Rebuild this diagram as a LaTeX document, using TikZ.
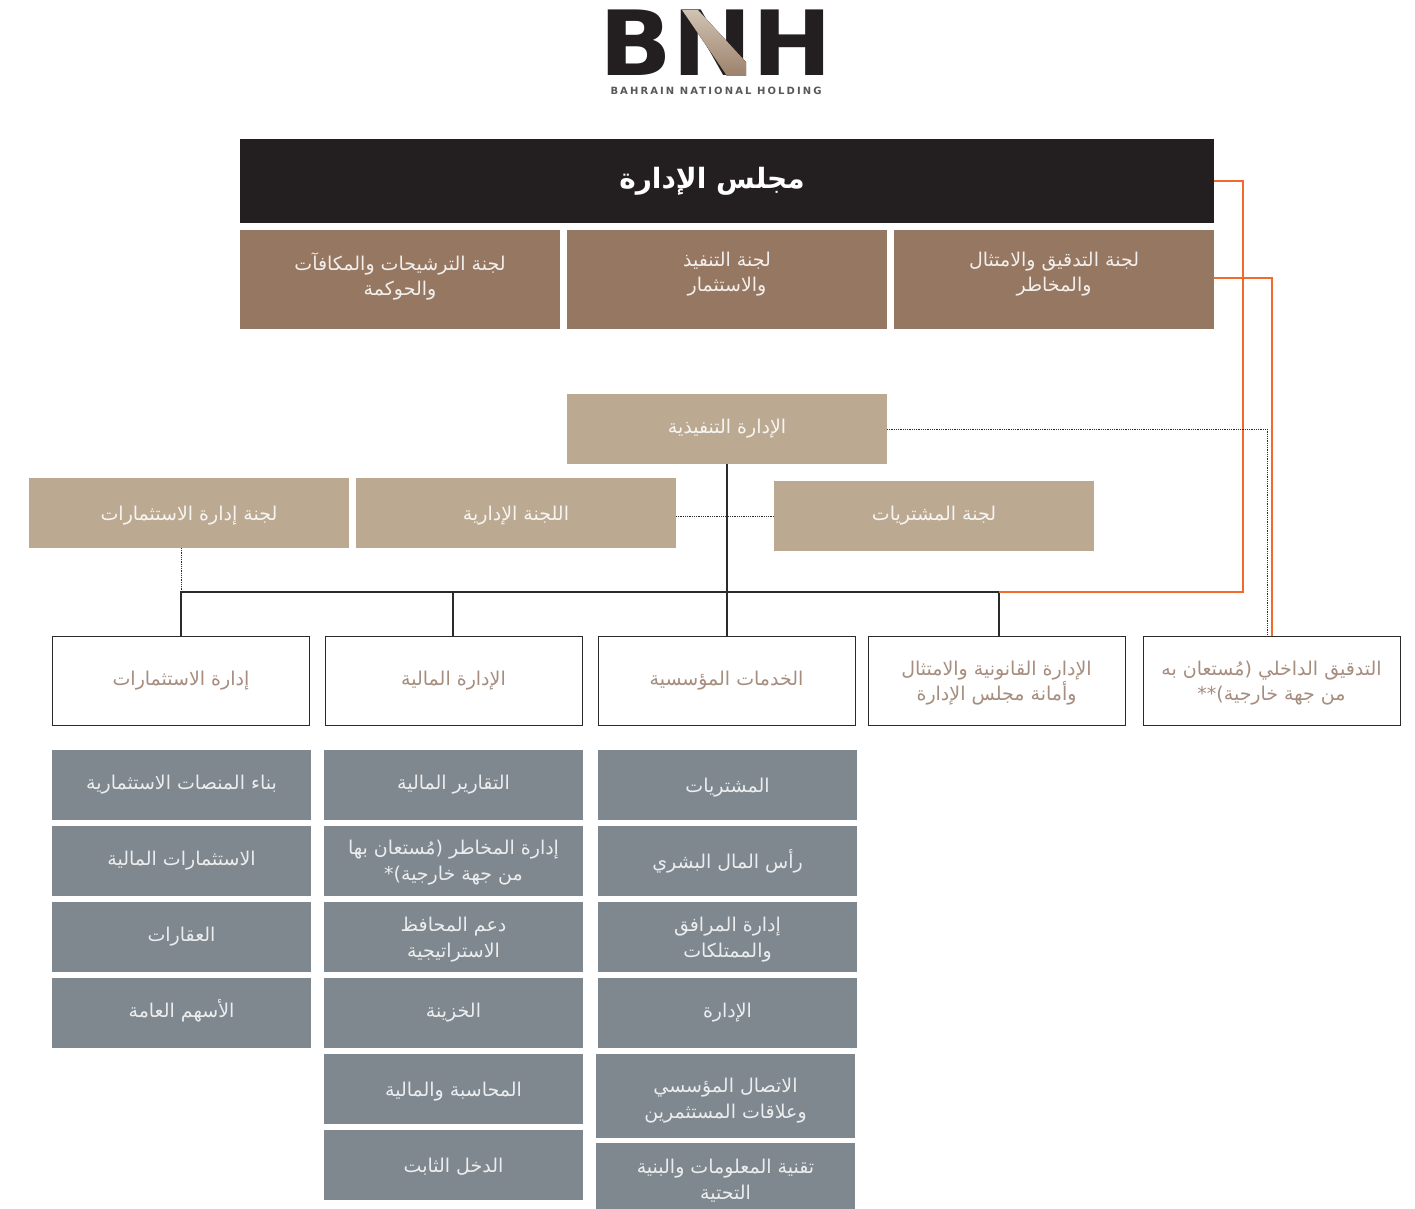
\documentclass[tikz,border=0pt]{standalone}
\usepackage{fontspec}
\usetikzlibrary{positioning}
\TeXXeTstate=1
\newfontfamily\arabicfont[Script=Arabic]{DejaVu Sans}
\newfontfamily\logofont{DejaVu Sans}
\newcommand{\ar}[1]{\beginR #1\endR}
% extra depth or height, moves a node's text up or down in its box
\newcommand{\lift}[1]{\rule[-#1pt]{0pt}{0pt}}
\newcommand{\sink}[1]{\rule{0pt}{#1pt}}
\definecolor{boardblack}{HTML}{231F20}
\definecolor{combrown}{HTML}{957762}
\definecolor{exectan}{HTML}{BBA992}
\definecolor{unitgrey}{HTML}{7E888E}
\definecolor{depttext}{HTML}{A68D7E}
\definecolor{linkorange}{HTML}{F26B2D}
\definecolor{linkdark}{HTML}{2B2B2B}

\begin{document}
\begin{tikzpicture}[
  x=1pt,y=-1pt,
  base/.style={inner sep=0pt,outer sep=0pt,align=center,font=\arabicfont\fontsize{19}{25.5}\selectfont},
  boardbox/.style={base,fill=boardblack,text=white,minimum width=974pt,minimum height=84pt,font=\arabicfont\bfseries\fontsize{28}{30}\selectfont},
  combox/.style={base,fill=combrown,text=white!88!combrown,minimum width=320pt,minimum height=99pt},
  execbox/.style={base,fill=exectan,text=white!88!exectan,minimum width=320pt,minimum height=70pt},
  deptbox/.style={base,draw=linkdark,line width=1pt,text=depttext,fill=white,minimum width=257pt,minimum height=89pt},
  unitbox/.style={base,fill=unitgrey,text=white!85!unitgrey,minimum width=259pt,minimum height=70pt},
  orgline/.style={linkdark,line width=1.1pt},
  orangeline/.style={linkorange,line width=1.2pt},
  dotline/.style={linkdark,densely dotted,line width=.8pt}
]
\useasboundingbox (0,0) rectangle (1415,1209);

% Logo
\node[inner sep=0pt,xscale=1.06,text=boardblack,font=\logofont\bfseries\fontsize{90}{90}\selectfont] (logo) at (716,43) {BNH};
\fill[top color=exectan!70!white,bottom color=combrown!80!exectan] (682,10) -- (698,10) -- (746,62) -- (746,76) -- (727,76) -- cycle;
\node[inner sep=0pt,text=boardblack!75,font=\logofont\bfseries\fontsize{10}{10}\selectfont\addfontfeature{LetterSpace=21}] (logosub) at (716,91) {BAHRAIN NATIONAL HOLDING};

% Board and committees
\node[boardbox,anchor=north west] (board) at (240,139) {\ar{مجلس الإدارة}\hspace*{30pt}};
\node[combox,below=7pt of board.south east,anchor=north east] (auditcom) {\ar{لجنة التدقيق والامتثال}\\\ar{والمخاطر}\lift{15}};
\node[combox,left=7pt of auditcom] (investexec) {\ar{لجنة التنفيذ}\\\ar{والاستثمار}\lift{15}};
\node[combox,left=7pt of investexec] (nomcom) {\ar{لجنة الترشيحات والمكافآت}\\\ar{والحوكمة}\lift{11}};

% Executive level
\node[execbox,anchor=north west] (exec) at (567,394) {\ar{الإدارة التنفيذية}};
\node[execbox,anchor=north west] (investcom) at (29,478) {\sink{20}\ar{لجنة إدارة الاستثمارات}};
\node[execbox,right=7pt of investcom] (admincom) {\sink{20}\ar{اللجنة الإدارية}};
\node[execbox,anchor=north west] (purchasecom) at (774,481) {\ar{لجنة المشتريات}};

% Departments
\node[deptbox,anchor=north west] (deptinvest) at (52.5,636) {\ar{إدارة الاستثمارات}};
\node[deptbox,right=15.5pt of deptinvest] (deptfinance) {\ar{الإدارة المالية}};
\node[deptbox,right=16pt of deptfinance] (deptcorp) {\ar{الخدمات المؤسسية}};
\node[deptbox,right=13pt of deptcorp] (deptlegal) {\sink{20}\ar{الإدارة القانونية والامتثال}\\\ar{وأمانة مجلس الإدارة}};
\node[deptbox,right=18pt of deptlegal] (deptaudit) {\sink{20}\ar{التدقيق الداخلي (مُستعان به}\\\ar{من جهة خارجية)**}};

% Units under investments
\node[unitbox,anchor=north west] (platforms) at (52,750) {\ar{بناء المنصات الاستثمارية}};
\node[unitbox,below=6pt of platforms] (fininvest) {\ar{الاستثمارات المالية}};
\node[unitbox,below=6pt of fininvest] (realestate) {\ar{العقارات}};
\node[unitbox,below=6pt of realestate] (equities) {\ar{الأسهم العامة}\lift{9}};

% Units under finance
\node[unitbox,anchor=north west] (reporting) at (324,750) {\ar{التقارير المالية}};
\node[unitbox,below=6pt of reporting] (risk) {\sink{18}\ar{إدارة المخاطر (مُستعان بها}\\\ar{من جهة خارجية)*}};
\node[unitbox,below=6pt of risk] (portfolio) {\sink{20}\ar{دعم المحافظ}\\\ar{الاستراتيجية}};
\node[unitbox,below=6pt of portfolio] (treasury) {\ar{الخزينة}};
\node[unitbox,below=6pt of treasury] (accounting) {\sink{20}\ar{المحاسبة والمالية}};
\node[unitbox,below=6pt of accounting] (fixedincome) {\sink{18}\ar{الدخل الثابت}};

% Units under corporate services
\node[unitbox,anchor=north west] (procurement) at (598,750) {\sink{20}\ar{المشتريات}};
\node[unitbox,below=6pt of procurement] (humancap) {\ar{رأس المال البشري}};
\node[unitbox,below=6pt of humancap] (facilities) {\sink{20}\ar{إدارة المرافق}\\\ar{والممتلكات}};
\node[unitbox,below=6pt of facilities] (administration) {\ar{الإدارة}};
\node[unitbox,anchor=north west,minimum height=84pt] (comms) at (596,1054) {\sink{24}\ar{الاتصال المؤسسي}\\\ar{وعلاقات المستثمرين}};
\node[unitbox,below=5pt of comms,minimum height=66pt] (itinfra) {\sink{24}\ar{تقنية المعلومات والبنية}\\\ar{التحتية}};

% Connectors
\coordinate (busy) at (0,592);
\coordinate (legaldrop) at ([xshift=2.5pt]deptlegal.north);
\coordinate (financedrop) at ([xshift=-.5pt]deptfinance.north);
\draw[orgline] (exec.south) -- (exec.south |- deptcorp.north);
\draw[orgline] (deptinvest.north) -- (deptinvest.north |- busy) -- (legaldrop |- busy) -- (legaldrop);
\draw[orgline] (financedrop) -- (financedrop |- busy);
\draw[orangeline] (board.east) -- ++(29,0) |- (legaldrop |- busy);
\draw[orangeline] ([yshift=1.5pt]auditcom.east) -| ([xshift=.5pt]deptaudit.north);
\draw[dotline] (exec.east) -| ([xshift=-4.5pt]deptaudit.north);
\draw[dotline] (admincom.east |- purchasecom.west) -- (purchasecom.west);
\draw[dotline] (investcom.south -| deptinvest.north) -- (deptinvest.north |- busy);
\end{tikzpicture}
\end{document}
